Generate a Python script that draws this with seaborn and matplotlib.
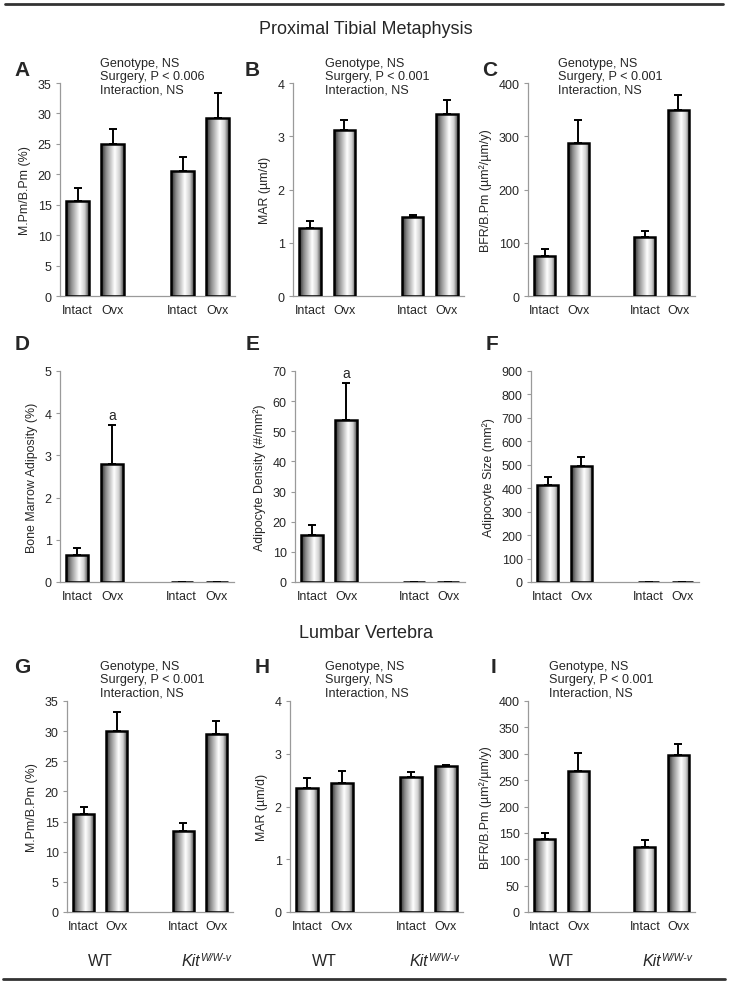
import numpy as np
import pandas as pd
import matplotlib
matplotlib.use("Agg")
import matplotlib.pyplot as plt
import matplotlib.transforms as mtransforms
from matplotlib.colors import LinearSegmentedColormap
from matplotlib.lines import Line2D
import seaborn as sns

# ── Data ────────────────────────────────────────────────────────────────
slots = ["WT Intact", "WT Ovx", "Kit Intact", "Kit Ovx"]
slot_order = ["WT Intact", "WT Ovx", "gap", "Kit Intact", "Kit Ovx"]
surgery_labels = ["Intact", "Ovx", "", "Intact", "Ovx"]
genotype_labels = ["WT", "Kit"]

mpm_tibia = [15.6, 24.9, 20.6, 29.2]
mpm_tibia_err = [2.2, 2.6, 2.3, 4.2]
mar_tibia = [1.28, 3.12, 1.49, 3.42]
mar_tibia_err = [0.13, 0.18, 0.04, 0.26]
bfr_tibia = [75, 288, 111, 349]
bfr_tibia_err = [13, 42, 11, 28]

adiposity = [0.65, 2.8, 0, 0]
adiposity_err = [0.15, 0.93, 0, 0]
adipo_density = [15.6, 53.7, 0, 0]
adipo_density_err = [3.2, 12.3, 0, 0]
adipo_size = [413, 493, 0, 0]
adipo_size_err = [37, 40, 0, 0]

mpm_spine = [16.3, 30.0, 13.4, 29.6]
mpm_spine_err = [1.1, 3.1, 1.4, 2.1]
mar_spine = [2.36, 2.45, 2.55, 2.76]
mar_spine_err = [0.18, 0.22, 0.10, 0.02]
bfr_spine = [139, 267, 124, 298]
bfr_spine_err = [10, 35, 12, 20]

stats_A = "Genotype, NS\nSurgery, P < 0.006\nInteraction, NS"
stats_B = "Genotype, NS\nSurgery, P < 0.001\nInteraction, NS"
stats_H = "Genotype, NS\nSurgery, NS\nInteraction, NS"

W, H = 729, 987

sns.set_style("white")
plt.rcParams["font.family"] = ["Liberation Sans", "DejaVu Sans"]
plt.rcParams["font.size"] = 8.9

fig = plt.figure(figsize=(W / 100, H / 100), dpi=100)

bar_cmap = LinearSegmentedColormap.from_list(
    "cyl", [(0, "#262626"), (0.22, "#8a8a8a"), (0.6, "#ffffff"),
            (0.82, "#cfcfcf"), (1, "#4a4a4a")])
grad = np.linspace(0, 1, 256)[np.newaxis, :]


def px_axes(left, right, top, bottom):
    return fig.add_axes([left / W, 1 - bottom / H, (right - left) / W, (bottom - top) / H])


def draw_panel(ax, means, errs, ylabel, ymax, ystep, mark=None, genotype=False):
    df = pd.DataFrame({"slot": slots, "value": means})
    sns.barplot(data=df, x="slot", y="value", order=slot_order, errorbar=None,
                width=0.63, color="white", ax=ax)
    for p in ax.patches:
        p.set_facecolor("none")
        p.set_edgecolor("black")
        p.set_linewidth(1.8)
        p.set_zorder(3)
        x0, h, w = p.get_x(), p.get_height(), p.get_width()
        if h > 0:
            im = ax.imshow(grad, extent=(x0, x0 + w, 0, h), aspect="auto",
                           cmap=bar_cmap, vmin=0, vmax=1, zorder=2,
                           interpolation="bilinear")
            im.set_clip_path(p)
    xpos = [slot_order.index(s) for s in slots]
    ax.errorbar(xpos, means, yerr=[np.zeros(len(errs)), errs], fmt="none",
                ecolor="black", elinewidth=1.4, capsize=3.2, capthick=1.4, zorder=1)
    if mark is not None:
        i = 1
        ax.annotate(mark, xy=(xpos[i], means[i] + errs[i]), xytext=(0, 2),
                    textcoords="offset points", ha="center", va="bottom",
                    fontsize=10)

    ax.set_xlim(-0.5, 4.5)
    ax.set_ylim(0, ymax)
    ax.set_yticks(np.arange(0, ymax + ystep / 2, ystep))
    ax.set_xticks(np.arange(-0.5, 5, 1))
    ax.set_xticklabels([])
    ax.set_xticks([0, 1, 3, 4], minor=True)
    ax.set_xticklabels([surgery_labels[i] for i in [0, 1, 3, 4]], minor=True)
    ax.tick_params(axis="x", which="major", length=4, color="#9a9a9a", width=0.8)
    ax.tick_params(axis="x", which="minor", length=0, pad=6, labelsize=9)
    ax.tick_params(axis="y", length=3, color="#9a9a9a", width=0.8, pad=3,
                   labelsize=9, left=True)
    ax.set_xlabel("")
    ax.set_ylabel(ylabel, fontsize=8.9, labelpad=5)
    sns.despine(ax=ax)
    for s in ["left", "bottom"]:
        ax.spines[s].set_color("#9a9a9a")
        ax.spines[s].set_linewidth(0.9)

    if genotype:
        tr = mtransforms.blended_transform_factory(ax.transData, ax.transAxes)
        ax.text(0.5, -0.232, genotype_labels[0], transform=tr, ha="center",
                va="center", fontsize=11.5)
        kit = ax.text(3.5, -0.232, genotype_labels[1], transform=tr, ha="right",
                      va="center", fontsize=11.5, style="italic")
        ax.annotate("W/W-v", xy=(1.0, 0.45), xycoords=kit, ha="left",
                    va="bottom", fontsize=7.5, style="italic")


def label(x, y, s, **kw):
    fig.text(x / W, 1 - y / H, s, **kw)


# ── Row 1: proximal tibial metaphysis histomorphometry ─────────────────
axA = px_axes(60, 235, 84, 297)
draw_panel(axA, mpm_tibia, mpm_tibia_err, "M.Pm/B.Pm (%)", 35, 5)
axB = px_axes(293, 464, 84, 297)
draw_panel(axB, mar_tibia, mar_tibia_err, "MAR (µm/d)", 4, 1)
axC = px_axes(528, 695, 84, 297)
draw_panel(axC, bfr_tibia, bfr_tibia_err, "BFR/B.Pm (µm²/µm/y)", 400, 100)

# ── Row 2: marrow adiposity ─────────────────────────────────────────────
axD = px_axes(60, 234, 372, 583)
draw_panel(axD, adiposity, adiposity_err, "Bone Marrow Adiposity (%)", 5, 1, mark="a")
axE = px_axes(295, 465, 372, 583)
draw_panel(axE, adipo_density, adipo_density_err, "Adipocyte Density (#/mm²)", 70, 10, mark="a")
axF = px_axes(531, 699, 372, 583)
draw_panel(axF, adipo_size, adipo_size_err, "Adipocyte Size (mm²)", 900, 100)

# ── Row 3: lumbar vertebra ──────────────────────────────────────────────
axG = px_axes(67, 233, 702, 913)
draw_panel(axG, mpm_spine, mpm_spine_err, "M.Pm/B.Pm (%)", 35, 5, genotype=True)
axH = px_axes(290, 463, 702, 913)
draw_panel(axH, mar_spine, mar_spine_err, "MAR (µm/d)", 4, 1, genotype=True)
axI = px_axes(528, 695, 702, 913)
draw_panel(axI, bfr_spine, bfr_spine_err, "BFR/B.Pm (µm²/µm/y)", 400, 50, genotype=True)

# stats text
for x, y, s in [(100, 58, stats_A), (325, 58, stats_B), (558, 58, stats_B),
                (100, 661, stats_B), (325, 661, stats_H), (549, 661, stats_B)]:
    label(x, y, s, ha="left", va="top", fontsize=9.1, linespacing=1.15)

# panel letters
for x, y, s in [(22, 70, "A"), (252, 70, "B"), (490, 70, "C"),
                (22, 345, "D"), (253, 345, "E"), (492, 345, "F"),
                (22, 668, "G"), (262, 668, "H"), (493, 668, "I")]:
    label(x, y, s, ha="center", va="center", fontsize=15, fontweight="bold")

# section titles
label(366, 30, "Proximal Tibial Metaphysis", ha="center", va="center", fontsize=13)
label(366, 633, "Lumbar Vertebra", ha="center", va="center", fontsize=13)

# frame lines
fig.add_artist(Line2D([5 / W, 723 / W], [1 - 5 / H, 1 - 5 / H], color="#333333", lw=2))
fig.add_artist(Line2D([3 / W, 725 / W], [1 - 980 / H, 1 - 980 / H], color="#333333", lw=2))

fig.savefig("out.png", dpi=100)
